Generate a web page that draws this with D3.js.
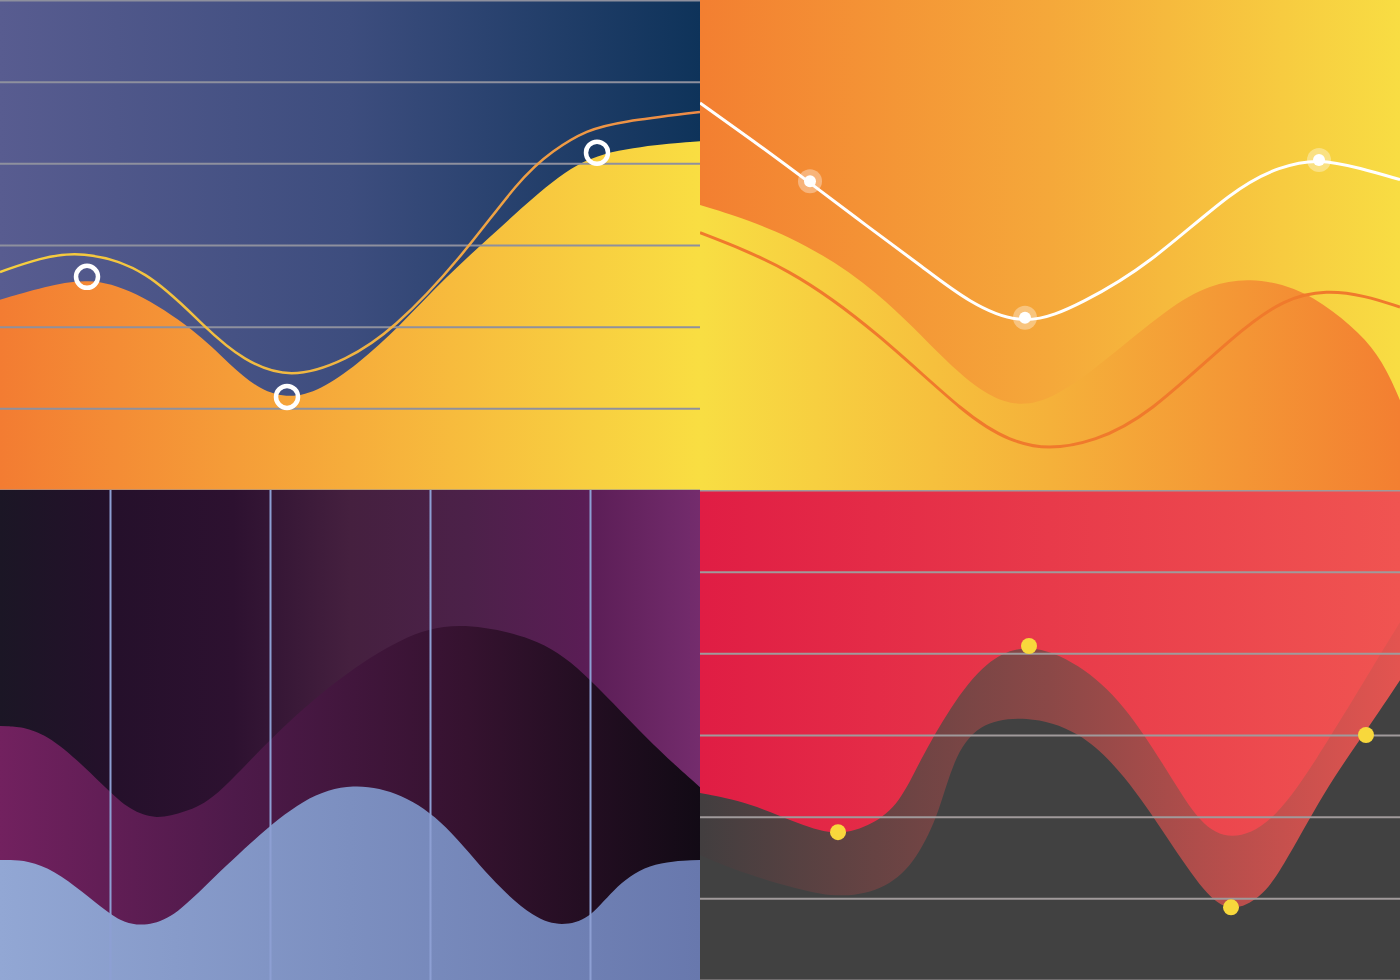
<!DOCTYPE html>
<html>
<head>
<meta charset="utf-8">
<script src="https://cdn.jsdelivr.net/npm/d3@7"></script>
<style>
  html, body { margin: 0; padding: 0; background: #fff; overflow: hidden; }
</style>
</head>
<body>
<div id="chart"></div>
<script>
// ---- data (x: 0..14 across a panel, y: 0..6 up a panel) ----

// panel 1 : navy sky, orange hill
const p1Area = [[0, 2.33], [0.9, 2.49], [1.76, 2.6], [2.68, 2.45], [3.9, 1.96], [4.6, 1.53], [5.2, 1.22],
  [5.8, 1.12], [6.4, 1.22], [7.14, 1.53], [8.0, 2.01], [8.92, 2.61], [9.8, 3.1], [10.66, 3.58],
  [11.66, 4.08], [12.8, 4.21], [14, 4.27]];
const p1Line = [[0, 2.67], [0.8, 2.84], [1.6, 2.93], [2.94, 2.72], [4.14, 1.96], [4.86, 1.59], [5.8, 1.35],
  [6.94, 1.59], [7.86, 1.96], [9.2, 2.82], [10.4, 3.82], [11.06, 4.16], [11.74, 4.41], [12.4, 4.51], [14, 4.63]];
const p1Rings = [[1.74, 2.61], [5.74, 1.14], [11.94, 4.13]];
const p1Grid = [0, 1, 2, 3, 4, 5, 6];

// panel 2 : orange / yellow
const p2Area = [[0, 3.49], [1.78, 3.15], [3.58, 2.45], [5.0, 1.51], [5.8, 1.13], [6.42, 1.02], [7.1, 1.13],
  [8.04, 1.55], [9.38, 2.24], [10.2, 2.52], [11.0, 2.6], [11.9, 2.49], [12.66, 2.2], [13.34, 1.84],
  [13.74, 1.47], [14, 1.1]];
const p2White = [[0, 4.74], [1.1, 4.26], [2.18, 3.77], [3.32, 3.24], [4.46, 2.73], [5.36, 2.3], [6.52, 1.98],
  [7.68, 2.3], [8.92, 2.73], [10.72, 3.71], [11.6, 3.96], [12.36, 4.06], [13.22, 3.94], [14, 3.8]];
const p2Orange = [[0, 3.15], [1.78, 2.73], [3.58, 1.92], [5.36, 0.89], [6.2, 0.6], [6.96, 0.49], [7.9, 0.6],
  [8.92, 0.89], [10.72, 1.92], [11.7, 2.35], [12.54, 2.45], [13.3, 2.38], [14, 2.24]];
const p2Dots = [[2.2, 3.78], [6.5, 2.11], [12.38, 4.04]];

// panel 3 : purple waves
const p3Magenta = [[0, 3.11], [0.9, 3.09], [2.14, 2.33], [2.6, 2.08], [3.12, 1.96], [3.7, 2.06], [4.28, 2.2],
  [5.36, 2.94], [6.78, 3.71], [8.04, 4.2], [9.1, 4.4], [10.72, 4.2], [11.6, 3.83], [12.94, 2.94], [14, 2.36]];
const p3Blue = [[0, 1.47], [0.9, 1.47], [2.14, 0.82], [2.5, 0.7], [2.86, 0.66], [3.4, 0.74], [4.02, 1.1],
  [5.0, 1.68], [6.08, 2.24], [7.06, 2.42], [8.04, 2.29], [8.92, 1.92], [9.82, 1.22], [10.7, 0.74],
  [11.24, 0.66], [11.78, 0.74], [12.24, 1.1], [12.94, 1.44], [14, 1.47]];
const p3Grid = [2.2, 5.4, 8.6, 11.8];

// panel 4 : red over charcoal
const p4Red = [[0, 2.29], [1.0, 2.17], [2.0, 1.9], [2.76, 1.76], [3.46, 1.9], [4.0, 2.17], [4.4, 2.69],
  [5.0, 3.34], [5.72, 3.92], [6.56, 4.14], [7.58, 3.88], [8.48, 3.39], [9.38, 2.53], [10.0, 1.9],
  [10.62, 1.7], [11.42, 1.9], [12.26, 2.62], [13.54, 3.92], [14, 4.38]];
const p4Band = [[0, 1.53], [0.66, 1.35], [2.0, 1.1], [2.86, 1.0], [3.74, 1.12], [4.34, 1.47], [4.8, 2.08],
  [5.06, 2.69], [5.54, 3.15], [6.52, 3.24], [7.58, 3.06], [8.48, 2.53], [9.38, 1.71], [10.1, 1.05],
  [10.62, 0.82], [11.2, 1.0], [11.6, 1.31], [12.5, 2.33], [13.2, 2.94], [14, 3.67]];
const p4Dots = [[2.76, 1.81], [6.58, 4.09], [10.62, 0.89], [13.32, 3.0]];
const p4Grid = [0, 1, 2, 3, 4, 5, 6];

// ---- setup ----
const W = 1400, H = 980, PW = 700, PH = 490;

const x = d3.scaleLinear().domain([0, 14]).range([0, PW]);
const y = d3.scaleLinear().domain([0, 6]).range([PH, 0]);

const svg = d3.select('#chart').append('svg')
  .attr('width', W)
  .attr('height', H);

const defs = svg.append('defs');

function grad(id, stops) {
  const g = defs.append('linearGradient')
    .attr('id', id)
    .attr('gradientUnits', 'userSpaceOnUse')
    .attr('x1', 0).attr('x2', PW).attr('y1', 0).attr('y2', 0);
  stops.forEach((c, i) => {
    g.append('stop').attr('offset', i / (stops.length - 1)).attr('stop-color', c);
  });
}

grad('p1-bg', ['#585c90', '#3d4d7e', '#0e335a']);
grad('p1-area', ['#f37c32', '#f6ad3b', '#f9de42']);
grad('p1-line', ['#f6cf3e', '#f0b442', '#ee8a46']);
grad('p2-bg', ['#f37f31', '#f5a83a', '#f8dd43']);
grad('p2-area', ['#f8de43', '#f5b13a', '#f37f31']);
grad('p3-bg', ['#1b1625', '#25102b', '#2d1130', '#45203f', '#4c2149', '#5a1d55', '#742c6d']);
grad('p3-magenta', ['#72215f', '#4e1a4a', '#35122f', '#120a15']);
grad('p3-blue', ['#92a7d4', '#7c8fc0', '#6878ad']);
grad('p4-red', ['#e01d44', '#e83a4a', '#f05451']);
grad('p4-band', ['#423e3f', '#8b4847', '#e35450']);

// smooth organic waves
const curve = d3.curveBasis;

const line = d3.line()
  .x(d => x(d[0]))
  .y(d => y(d[1]))
  .curve(curve);

const areaBottom = d3.area()
  .x(d => x(d[0]))
  .y0(PH)
  .y1(d => y(d[1]))
  .curve(curve);

const areaTop = d3.area()
  .x(d => x(d[0]))
  .y0(0)
  .y1(d => y(d[1]))
  .curve(curve);

function panel(id, px, py) {
  defs.append('clipPath').attr('id', 'clip-' + id)
    .append('rect').attr('width', PW).attr('height', PH);
  return svg.append('g')
    .attr('transform', `translate(${px},${py})`)
    .attr('clip-path', `url(#clip-${id})`);
}

function hGrid(g, ticks, color) {
  g.append('g')
    .call(d3.axisLeft(y).tickValues(ticks).tickSize(-PW).tickFormat(''))
    .call(a => a.select('.domain').remove())
    .selectAll('line')
    .attr('stroke', color)
    .attr('stroke-width', 2);
}

// ---- panel 1 ----
const g1 = panel('p1', 0, 0);
g1.append('rect').attr('width', PW).attr('height', PH).attr('fill', 'url(#p1-bg)');
g1.append('path').datum(p1Area).attr('d', areaBottom).attr('fill', 'url(#p1-area)');
hGrid(g1, p1Grid, '#8e909e');
g1.append('path').datum(p1Line).attr('d', line)
  .attr('fill', 'none').attr('stroke', 'url(#p1-line)').attr('stroke-width', 2.5);
g1.selectAll('.ring').data(p1Rings).enter().append('circle')
  .attr('class', 'ring')
  .attr('cx', d => x(d[0]))
  .attr('cy', d => y(d[1]))
  .attr('r', 11)
  .attr('fill', 'none')
  .attr('stroke', '#fff')
  .attr('stroke-width', 4.5);

// ---- panel 2 ----
const g2 = panel('p2', PW, 0);
g2.append('rect').attr('width', PW).attr('height', PH).attr('fill', 'url(#p2-bg)');
g2.append('path').datum(p2Area).attr('d', areaBottom).attr('fill', 'url(#p2-area)');
g2.append('path').datum(p2Orange).attr('d', line)
  .attr('fill', 'none').attr('stroke', '#f07a2c').attr('stroke-width', 3);
g2.append('path').datum(p2White).attr('d', line)
  .attr('fill', 'none').attr('stroke', '#fff').attr('stroke-width', 3);
g2.selectAll('.halo').data(p2Dots).enter().append('circle')
  .attr('class', 'halo')
  .attr('cx', d => x(d[0]))
  .attr('cy', d => y(d[1]))
  .attr('r', 12)
  .attr('fill', '#fff')
  .attr('fill-opacity', 0.35);
g2.selectAll('.dot').data(p2Dots).enter().append('circle')
  .attr('class', 'dot')
  .attr('cx', d => x(d[0]))
  .attr('cy', d => y(d[1]))
  .attr('r', 6)
  .attr('fill', '#fff');

// ---- panel 3 ----
const g3 = panel('p3', 0, PH);
g3.append('rect').attr('width', PW).attr('height', PH).attr('fill', 'url(#p3-bg)');
g3.append('path').datum(p3Magenta).attr('d', areaBottom).attr('fill', 'url(#p3-magenta)');
g3.append('path').datum(p3Blue).attr('d', areaBottom).attr('fill', 'url(#p3-blue)');
g3.append('g')
  .attr('transform', `translate(0,${PH})`)
  .call(d3.axisBottom(x).tickValues(p3Grid).tickSize(PH).tickFormat(''))
  .call(a => a.select('.domain').remove())
  .selectAll('line')
  .attr('transform', `translate(0,${-PH})`)
  .attr('stroke', '#8d9fd3')
  .attr('stroke-width', 2);

// ---- panel 4 ----
const g4 = panel('p4', PW, PH);
g4.append('rect').attr('width', PW).attr('height', PH).attr('fill', '#414141');
g4.append('path').datum(p4Band).attr('d', areaTop).attr('fill', 'url(#p4-band)');
g4.append('path').datum(p4Red).attr('d', areaTop).attr('fill', 'url(#p4-red)');
hGrid(g4, p4Grid, '#a09a9b');
g4.selectAll('.dot').data(p4Dots).enter().append('circle')
  .attr('class', 'dot')
  .attr('cx', d => x(d[0]))
  .attr('cy', d => y(d[1]))
  .attr('r', 8)
  .attr('fill', '#f8d83c');
</script>
</body>
</html>
